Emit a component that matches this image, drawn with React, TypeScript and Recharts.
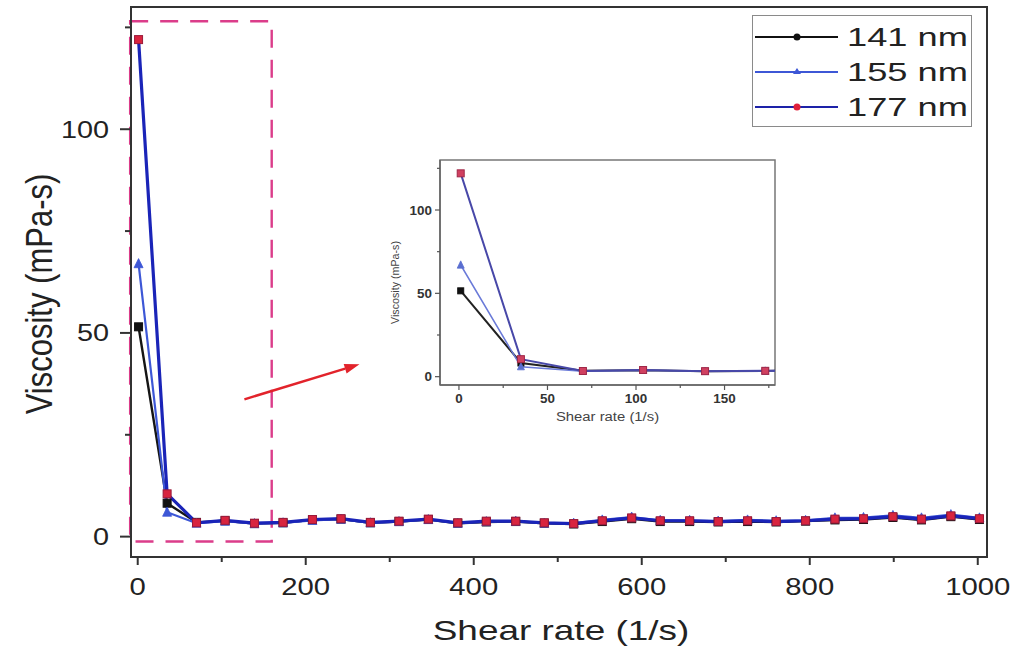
import React from 'react';
import { LineChart, Line, XAxis, YAxis, ReferenceArea, ReferenceLine, Legend } from 'recharts';

// shear rate (1/s) and viscosity (mPa-s) for the three particle sizes
const shearRate = [1, 35, 70, 104, 139, 173, 208, 242, 277, 311, 346, 381, 415, 450, 484, 519, 553, 588, 622, 657, 691, 726, 760, 795, 830, 864, 899, 933, 968, 1002];
const visc141 = [51.5, 8.2, 3.5, 3.9, 3.2, 3.4, 4.1, 4.3, 3.4, 3.7, 4.2, 3.3, 3.6, 3.7, 3.3, 3.1, 3.7, 4.4, 3.7, 3.7, 3.6, 3.7, 3.6, 3.8, 4.1, 4.2, 4.7, 4.1, 4.9, 4.2];
const visc155 = [67, 6.0, 3.3, 3.8, 3.2, 3.4, 4.0, 4.3, 3.4, 3.7, 4.2, 3.3, 3.7, 3.8, 3.3, 3.3, 4.1, 4.8, 4.0, 4.0, 3.8, 4.1, 3.9, 4.0, 4.6, 4.7, 5.2, 4.6, 5.4, 4.6];
const visc177 = [122, 10.5, 3.4, 4.0, 3.3, 3.5, 4.2, 4.4, 3.5, 3.8, 4.3, 3.4, 3.8, 3.8, 3.4, 3.2, 3.9, 4.6, 3.9, 3.9, 3.7, 3.9, 3.7, 3.9, 4.3, 4.4, 4.9, 4.3, 5.1, 4.4];
const seriesNames = ['141 nm', '155 nm', '177 nm'];

const mainXTicks = [0, 100, 200, 300, 400, 500, 600, 700, 800, 900, 1000];
const mainYTicks = [0, 25, 50, 75, 100, 125];
const insetXTicks = [0, 25, 50, 75, 100, 125, 150, 175];
const insetYTicks = [0, 25, 50, 75, 100, 125];

const mainXDomain = [-8, 1011];
const yDomain = [-5, 130];
const insetXDomain = [-10.7, 178.5];

const data = shearRate.map((x, i) => ({ x, s141: visc141[i], s155: visc155[i], s177: visc177[i] }));
const insetData = data.slice(0, 7);

const FONT = '"Liberation Sans", Arial, sans-serif';
const AXIS = '#333';

const squareDot = (size, fill, stroke) => (p) => {
  if (p.cx == null || p.cy == null) return <g key={p.index} />;
  return (
    <rect key={p.index} x={p.cx - size / 2} y={p.cy - size / 2} width={size} height={size}
      fill={fill} stroke={stroke} strokeWidth={1} />
  );
};

const triangleDot = (size, fill) => (p) => {
  if (p.cx == null || p.cy == null) return <g key={p.index} />;
  const h = size * 0.9;
  return (
    <polygon key={p.index}
      points={`${p.cx},${p.cy - h / 2 - 1} ${p.cx - size / 2},${p.cy + h / 2} ${p.cx + size / 2},${p.cy + h / 2}`}
      fill={fill} stroke={fill} strokeWidth={0.8} />
  );
};

const MainXTick = (props) => {
  const { x, y, payload } = props;
  const v = payload.value;
  const major = v % 200 === 0;
  return (
    <g>
      <line x1={x} x2={x} y1={y} y2={y + (major ? 8 : 5)} stroke={AXIS} strokeWidth={2} />
      {major && (
        <text transform={`translate(${x},${y + 38}) scale(1.22,1)`} textAnchor="middle" fontSize={24} fill="#222" fontFamily={FONT}>
          {v}
        </text>
      )}
    </g>
  );
};

const MainYTick = (props) => {
  const { x, y, payload } = props;
  const v = payload.value;
  const major = v % 50 === 0;
  return (
    <g>
      <line x1={x - (major ? 11 : 6)} x2={x} y1={y} y2={y} stroke={AXIS} strokeWidth={2} />
      {major && (
        <text transform={`translate(${x - 22},${y + 8.5}) scale(1.2,1)`} textAnchor="end" fontSize={24} fill="#222" fontFamily={FONT}>
          {v}
        </text>
      )}
    </g>
  );
};

const InsetXTick = (props) => {
  const { x, y, payload } = props;
  const v = payload.value;
  const major = v % 50 === 0;
  return (
    <g>
      <line x1={x} x2={x} y1={y} y2={y + (major ? 5 : 3)} stroke="#555" strokeWidth={1.2} />
      {major && (
        <text transform={`translate(${x},${y + 18}) scale(1.12,1)`} textAnchor="middle" fontSize={12} fontWeight="bold" fill="#333" fontFamily={FONT}>
          {v}
        </text>
      )}
    </g>
  );
};

const InsetYTick = (props) => {
  const { x, y, payload } = props;
  const v = payload.value;
  const major = v % 50 === 0;
  return (
    <g>
      <line x1={x - (major ? 5 : 3)} x2={x} y1={y} y2={y} stroke="#555" strokeWidth={1.2} />
      {major && (
        <text transform={`translate(${x - 8},${y + 4.5}) scale(1.12,1)`} textAnchor="end" fontSize={12} fontWeight="bold" fill="#333" fontFamily={FONT}>
          {v}
        </text>
      )}
    </g>
  );
};

const Arrow = (p) => {
  const { x1, y1, x2, y2 } = p;
  const ang = Math.atan2(y2 - y1, x2 - x1);
  const len = 15;
  const half = 5;
  const bx = x2 - len * Math.cos(ang);
  const by = y2 - len * Math.sin(ang);
  const px = -Math.sin(ang) * half;
  const py = Math.cos(ang) * half;
  return (
    <g>
      <line x1={x1} y1={y1} x2={bx} y2={by} stroke="#e2232b" strokeWidth={2.5} />
      <polygon points={`${x2},${y2} ${bx + px},${by + py} ${bx - px},${by - py}`} fill="#e2232b" />
    </g>
  );
};

const LegendBox = () => {
  const rows = [
    { name: seriesNames[0], color: '#111', mark: 'dot', markColor: '#111' },
    { name: seriesNames[1], color: '#3d57d6', mark: 'tri', markColor: '#3d57d6' },
    { name: seriesNames[2], color: '#1d22a8', mark: 'dot', markColor: '#e0203a' },
  ];
  return (
    <div style={{ width: 220, height: 112, border: '1px solid #8a8a8a', background: '#fff', boxSizing: 'border-box' }}>
      <svg width={218} height={110} style={{ display: 'block' }}>
        {rows.map((r, i) => {
          const cy = 21 + i * 35;
          return (
            <g key={r.name}>
              <line x1={2} x2={85} y1={cy} y2={cy} stroke={r.color} strokeWidth={2} />
              {r.mark === 'dot' ? (
                <circle cx={44} cy={cy} r={3.5} fill={r.markColor} />
              ) : (
                <polygon points={`44,${cy - 4} 40,${cy + 2} 48,${cy + 2}`} fill={r.markColor} />
              )}
              <text transform={`translate(94,${cy + 9}) scale(1.45,1)`} fontSize={25} fill="#222" fontFamily={FONT}>
                {r.name}
              </text>
            </g>
          );
        })}
      </svg>
    </div>
  );
};

const MainYLabel = (props) => {
  const vb = props.viewBox || { x: 0, y: 7, width: 131, height: 550 };
  const cx = vb.x + vb.width - 92;
  const cy = vb.y + vb.height / 2 + 12;
  return (
    <text transform={`translate(${cx},${cy}) rotate(-90) scale(1,1.2)`} textAnchor="middle" dy="0.35em" fontSize={31} fill="#222" fontFamily={FONT}>
      Viscosity (mPa-s)
    </text>
  );
};

const MainXLabel = (props) => {
  const vb = props.viewBox || { x: 131, y: 557, width: 856, height: 91 };
  const cx = vb.x + vb.width / 2 + 2;
  return (
    <text transform={`translate(${cx},${vb.y + 83}) scale(1.32,1)`} textAnchor="middle" fontSize={28} fill="#222" fontFamily={FONT}>
      Shear rate (1/s)
    </text>
  );
};

const InsetYLabel = (props) => {
  const vb = props.viewBox || { x: 0, y: 10, width: 50, height: 225 };
  const cx = vb.x + vb.width - 45;
  const cy = vb.y + vb.height / 2 + 10;
  return (
    <text transform={`translate(${cx},${cy}) rotate(-90)`} textAnchor="middle" dy="0.35em" fontSize={10.7} fill="#444" fontFamily={FONT}>
      Viscosity (mPa-s)
    </text>
  );
};

const InsetXLabel = (props) => {
  const vb = props.viewBox || { x: 50, y: 235, width: 335, height: 45 };
  const cx = vb.x + vb.width / 2;
  return (
    <text transform={`translate(${cx},${vb.y + 36}) scale(1.1,1)`} textAnchor="middle" fontSize={13.5} fill="#444" fontFamily={FONT}>
      Shear rate (1/s)
    </text>
  );
};

const App = () => {
  return (
    <div style={{ position: 'fixed', left: 0, top: 0, width: 1014, height: 648, background: '#fff', fontFamily: FONT }}>
      <div style={{ position: 'absolute', left: 0, top: 0 }}>
        <LineChart width={1014} height={648} data={data} margin={{ top: 7, right: 27, bottom: 0, left: 0 }}>
          <XAxis dataKey="x" type="number" domain={mainXDomain} ticks={mainXTicks} interval={0}
            allowDataOverflow height={91} tickSize={0} tickMargin={0} tickLine={false}
            axisLine={{ stroke: AXIS, strokeWidth: 2 }} tick={<MainXTick />} label={<MainXLabel />} />
          <YAxis type="number" domain={yDomain} ticks={mainYTicks} interval={0}
            allowDataOverflow width={131} tickSize={0} tickMargin={0} tickLine={false}
            axisLine={{ stroke: AXIS, strokeWidth: 2 }} tick={<MainYTick />} label={<MainYLabel />} />
          <ReferenceArea x1={mainXDomain[0]} x2={mainXDomain[1]} y1={yDomain[0]} y2={yDomain[1]}
            fill="none" stroke={AXIS} strokeWidth={2} ifOverflow="visible" />
          <ReferenceArea x1={-9} x2={159.5} y1={-1.2} y2={126.5} fill="none" stroke="#db3d8a"
            strokeWidth={2.4} strokeDasharray="18 12" ifOverflow="visible" />
          <ReferenceLine segment={[{ x: 127, y: 33.7 }, { x: 264, y: 42.3 }]} ifOverflow="visible"
            shape={(p) => <Arrow {...p} />} />
          <Line dataKey="s141" name={seriesNames[0]} stroke="#151515" strokeWidth={2.4}
            dot={squareDot(8, '#111', '#111')} isAnimationActive={false} />
          <Line dataKey="s155" name={seriesNames[1]} stroke="#3d57d6" strokeWidth={2.2}
            dot={triangleDot(9, '#3d57d6')} isAnimationActive={false} />
          <Line dataKey="s177" name={seriesNames[2]} stroke="#1a24b8" strokeWidth={3.2}
            dot={squareDot(8, '#d8243f', '#9a1a3a')} isAnimationActive={false} />
          <Legend content={<LegendBox />} layout="vertical" align="center" verticalAlign="middle"
            wrapperStyle={{ position: 'absolute', left: 752, top: 15, width: 220, height: 112 }} />
        </LineChart>
      </div>
      <div style={{ position: 'absolute', left: 390, top: 150 }}>
        <LineChart width={400} height={280} data={insetData} margin={{ top: 10, right: 15, bottom: 0, left: 0 }}>
          <XAxis dataKey="x" type="number" domain={insetXDomain} ticks={insetXTicks} interval={0}
            allowDataOverflow height={45} tickSize={0} tickMargin={0} tickLine={false}
            axisLine={{ stroke: '#666', strokeWidth: 1.5 }} tick={<InsetXTick />} label={<InsetXLabel />} />
          <YAxis type="number" domain={yDomain} ticks={insetYTicks} interval={0}
            allowDataOverflow width={50} tickSize={0} tickMargin={0} tickLine={false}
            axisLine={{ stroke: '#666', strokeWidth: 1.5 }} tick={<InsetYTick />} label={<InsetYLabel />} />
          <ReferenceArea x1={insetXDomain[0]} x2={insetXDomain[1]} y1={yDomain[0]} y2={yDomain[1]}
            fill="none" stroke="#777" strokeWidth={1.5} ifOverflow="visible" />
          <Line dataKey="s141" stroke="#222" strokeWidth={2} dot={squareDot(6, '#111', '#111')} isAnimationActive={false} />
          <Line dataKey="s155" stroke="#6a7ad8" strokeWidth={1.5} dot={triangleDot(7, '#5a6ed0')} isAnimationActive={false} />
          <Line dataKey="s177" stroke="#4848a8" strokeWidth={2} dot={squareDot(7, '#d04060', '#a02848')} isAnimationActive={false} />
        </LineChart>
      </div>
    </div>
  );
};

export default App;
